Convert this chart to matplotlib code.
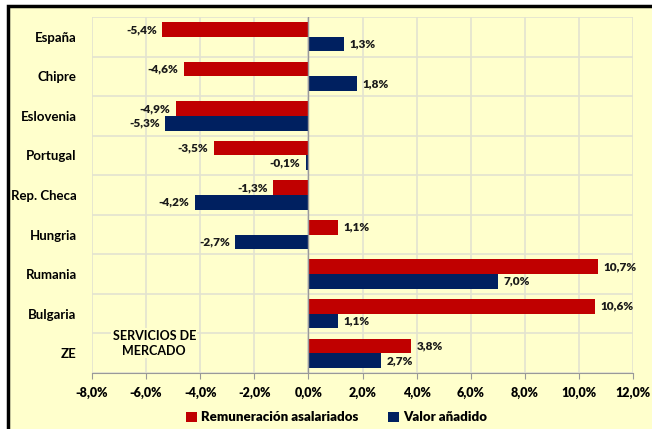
import matplotlib
matplotlib.use("Agg")
import matplotlib.pyplot as plt
import numpy as np
from matplotlib.patches import Rectangle

paises = ["España", "Chipre", "Eslovenia", "Portugal", "Rep. Checa",
          "Hungria", "Rumania", "Bulgaria", "ZE"]
remuneracion = [-5.4, -4.6, -4.9, -3.5, -1.3, 1.1, 10.7, 10.6, 3.8]
valor_anadido = [1.3, 1.8, -5.3, -0.1, -4.2, -2.7, 7.0, 1.1, 2.7]
ticks_x = [-8, -6, -4, -2, 0, 2, 4, 6, 8, 10, 12]

rojo = "#C00000"
azul = "#002060"
fondo = "#FFFFCC"

plt.rcParams['font.family'] = ['Lato', 'DejaVu Sans']
plt.rcParams['font.weight'] = 'bold'

fig = plt.figure(figsize=(6.52, 4.29), dpi=100)
fig.patch.set_facecolor("white")

ax = fig.add_axes([92 / 652, 56 / 429, 541 / 652, 356 / 429])
ax.set_facecolor(fondo)
ax.set_zorder(2)

# marco negro del gráfico
marco = Rectangle((8 / 652, -0.05), 1.0, 1 - 6 / 429 + 0.05,
                  transform=fig.transFigure, facecolor=fondo,
                  edgecolor="black", linewidth=2.5, zorder=-1)
fig.add_artist(marco)

y = np.arange(len(paises))
h = 0.37
ax.barh(y - h / 2, remuneracion, height=h, color=rojo, label="Remuneración asalariados", zorder=3)
ax.barh(y + h / 2, valor_anadido, height=h, color=azul, label="Valor añadido", zorder=3)

fmt = lambda v: ("%.1f%%" % v).replace(".", ",")
for i in range(len(paises)):
    for v, off in ((remuneracion[i], -h / 2), (valor_anadido[i], h / 2)):
        if v >= 0:
            ax.text(v + 0.2, i + off, fmt(v), ha="left", va="center", fontsize=8.5, fontweight="heavy", color="#1a1a1a")
        else:
            ax.text(v - 0.2, i + off, fmt(v), ha="right", va="center", fontsize=8.5, fontweight="heavy", color="#1a1a1a")

ax.set_xlim(-8, 12)
ax.set_ylim(len(paises) - 0.5, -0.5)
ax.set_xticks(ticks_x)
ax.set_xticklabels([fmt(t) for t in ticks_x], fontsize=9, fontweight="heavy")
ax.set_yticks(y)
ax.set_yticklabels(paises, fontsize=9.5, fontweight="bold")
ax.set_yticks(np.arange(-0.5, len(paises), 1), minor=True)
ax.tick_params(axis="y", which="major", length=0, pad=11)
ax.tick_params(axis="y", which="minor", length=0)
ax.tick_params(axis="x", length=4, color="#999999", pad=6)

ax.grid(True, which="minor", axis="y", color="#E3E3D0", linewidth=1.2, zorder=0)
ax.grid(True, which="major", axis="x", color="#E3E3D0", linewidth=1.2, zorder=0)
for s in ("left", "right", "top"):
    ax.spines[s].set_visible(False)
ax.spines["bottom"].set_color("#999999")
ax.axvline(0, color="#999999", linewidth=1, zorder=4)

ax.text(-5.7, 7.75, "SERVICIOS DE\nMERCADO", ha="center", va="center",
        fontsize=9, fontweight="bold", linespacing=1.3, zorder=5,
        bbox=dict(facecolor=fondo, edgecolor="none", pad=1))

leg = fig.legend(loc="center", bbox_to_anchor=(0.516, 0.027), ncol=2, frameon=False,
                 prop={"size": 9.5, "weight": "heavy"}, handlelength=0.8, handleheight=0.8,
                 handletextpad=0.3, columnspacing=2.3)

fig.savefig("out.png", dpi=100, facecolor=fig.get_facecolor())
